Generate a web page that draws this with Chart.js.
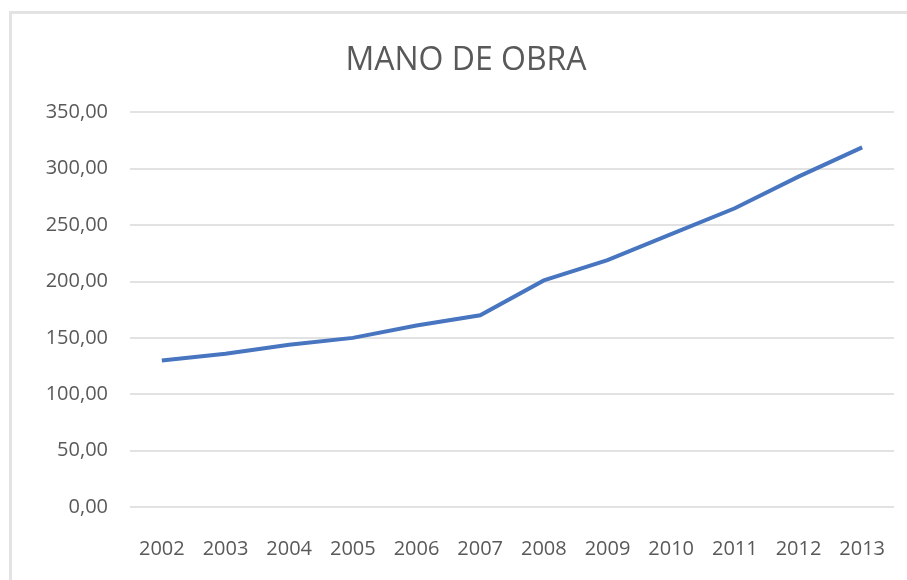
<!DOCTYPE html>
<html>
<head>
<meta charset="utf-8">
<script src="https://cdn.jsdelivr.net/npm/chart.js@4.4.1/dist/chart.umd.min.js"></script>
<style>
  html, body { margin: 0; padding: 0; background: #fff; overflow: hidden; }
  #frame { position: absolute; left: 9px; top: 11px; width: 895px; height: 566px;
           border-left: 3px solid #e3e3e3; border-top: 3px solid #e3e3e3; }
  #wrap { position: absolute; left: 0; top: 0; width: 907px; height: 580px; }
</style>
</head>
<body>
<div id="frame"></div>
<div id="wrap"><canvas id="chart"></canvas></div>
<script>
// Datos
const years = ['2002', '2003', '2004', '2005', '2006', '2007', '2008', '2009', '2010', '2011', '2012', '2013'];
const manoDeObra = [130, 136, 144, 150, 161, 170, 201, 219, 242, 265, 293, 319];
const yTicks = [0, 50, 100, 150, 200, 250, 300, 350];

const fmt = v => v.toFixed(2).replace('.', ',');

const ctx = document.getElementById('chart').getContext('2d');
new Chart(ctx, {
    type: 'line',
    data: {
        labels: years,
        datasets: [{
            label: 'Mano de obra',
            data: manoDeObra,
            borderColor: '#4775c0',
            borderWidth: 4,
            pointRadius: 0,
            tension: 0,
            fill: false
        }]
    },
    options: {
        responsive: true,
        maintainAspectRatio: false,
        animation: false,
        layout: { padding: { left: 38, right: 13, top: 0, bottom: 0 } },
        plugins: {
            legend: { display: false },
            tooltip: { enabled: false },
            title: {
                display: true,
                text: 'MANO DE OBRA',
                color: '#595959',
                font: { family: 'Open Sans', size: 32, weight: 'normal', lineHeight: 1.2 },
                padding: { top: 42, bottom: 32 }
            }
        },
        scales: {
            x: {
                offset: true,
                grid: { display: false, drawTicks: false },
                border: { display: false },
                ticks: {
                    color: '#595959',
                    font: { family: 'Open Sans', size: 20 },
                    padding: 30,
                    maxRotation: 0
                },
                afterFit: s => { s.height = 73; s.paddingLeft = 0; s.paddingRight = 0; }
            },
            y: {
                min: 0,
                max: 350,
                afterBuildTicks: s => { s.ticks = yTicks.map(v => ({ value: v })); },
                grid: { color: '#e2e2e2', lineWidth: 2, drawTicks: false },
                border: { display: false },
                ticks: {
                    color: '#595959',
                    font: { family: 'Open Sans', size: 20 },
                    padding: 22,
                    callback: v => fmt(v)
                },
                afterFit: s => { s.width = 92; }
            }
        }
    }
});
</script>
</body>
</html>
